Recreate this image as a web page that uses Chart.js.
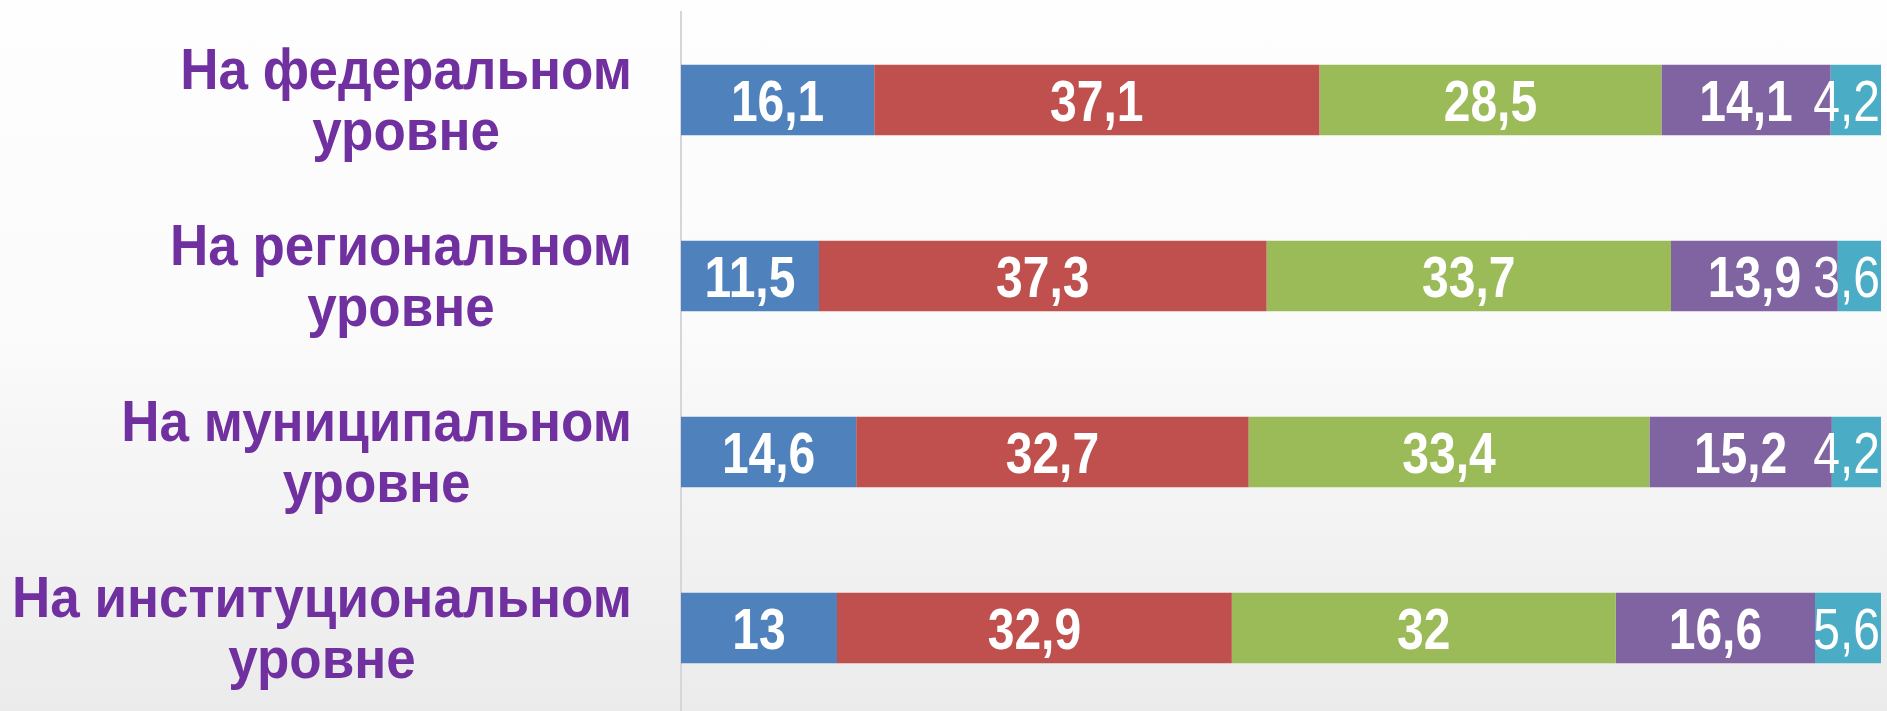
<!DOCTYPE html>
<html><head><meta charset="utf-8">
<script src="https://cdn.jsdelivr.net/npm/chart.js@4/dist/chart.umd.min.js"></script>
<style>
html,body{margin:0;padding:0;overflow:hidden;width:1887px;height:711px;
background:linear-gradient(to bottom,#fefefe 0%,#fbfbfb 45%,#ebebeb 100%);}
canvas{display:block}
</style></head><body>
<canvas id="c" width="1887" height="716"></canvas>
<script>
const categories = [
  ["На федеральном", "уровне"],
  ["На региональном", "уровне"],
  ["На муниципальном", "уровне"],
  ["На институциональном", "уровне"]
];
const seriesNames = ["Серия 1", "Серия 2", "Серия 3", "Серия 4", "Серия 5"];
const series1 = [16.1, 11.5, 14.6, 13];
const series2 = [37.1, 37.3, 32.7, 32.9];
const series3 = [28.5, 33.7, 33.4, 32];
const series4 = [14.1, 13.9, 15.2, 16.6];
const series5 = [4.2, 3.6, 4.2, 5.6];
const colors = ["#4f81bd", "#c0504d", "#9bbb59", "#8064a2", "#4bacc6"];

const allSeries = [series1, series2, series3, series4, series5];

const valueLabels = {
  id: 'valueLabels',
  afterDatasetsDraw(chart) {
    const {ctx, chartArea: a} = chart;
    ctx.save();
    ctx.beginPath();
    ctx.rect(a.left, 0, a.right - a.left, chart.height);
    ctx.clip();
    chart.data.datasets.forEach((ds, di) => {
      const meta = chart.getDatasetMeta(di);
      meta.data.forEach((el, i) => {
        const v = ds.data[i];
        const txt = String(v).replace('.', ',');
        const fs = 48;
        ctx.font = (di === 4 ? '' : 'bold ') + fs + 'px "Liberation Sans", Arial, sans-serif';
        ctx.fillStyle = '#ffffff';
        ctx.textAlign = 'center';
        ctx.textBaseline = 'alphabetic';
        const w = ctx.measureText(txt).width;
        let cx = (el.x + el.base) / 2;
        cx = Math.min(cx, a.right - 1 - w / 2);
        ctx.save();
        ctx.translate(cx, el.y);
        ctx.scale(1, 1.2);
        ctx.fillText(txt, 0, fs * 0.358);
        ctx.restore();
      });
    });
    ctx.restore();
  }
};

const categoryLabels = {
  id: 'categoryLabels',
  afterDraw(chart) {
    const {ctx, chartArea: a} = chart;
    const y = chart.scales.y;
    ctx.save();
    ctx.fillStyle = '#7030a0';
    ctx.font = 'bold 53px "Liberation Sans", Arial, sans-serif';
    ctx.textBaseline = 'alphabetic';
    const xr = a.left - 49;
    categories.forEach((lines, i) => {
      const yc = y.getPixelForValue(i);
      const w1 = ctx.measureText(lines[0]).width;
      ctx.save();
      ctx.translate(0, yc);
      ctx.scale(1, 1.1);
      ctx.textAlign = 'right';
      ctx.fillText(lines[0], xr, -11 / 1.1);
      ctx.textAlign = 'center';
      ctx.fillText(lines[1], xr - w1 / 2, 50 / 1.1);
      ctx.restore();
    });
    ctx.restore();
  }
};

new Chart(document.getElementById('c'), {
  type: 'bar',
  data: {
    labels: categories,
    datasets: allSeries.map((s, k) => ({
      label: seriesNames[k],
      data: s,
      backgroundColor: colors[k],
      borderWidth: 0,
      categoryPercentage: 1,
      barPercentage: 0.4
    }))
  },
  options: {
    indexAxis: 'y',
    responsive: false,
    animation: false,
    layout: {padding: {left: 0, right: 6, top: 12, bottom: 0}},
    plugins: {legend: {display: false}, tooltip: {enabled: false}},
    scales: {
      x: {stacked: true, display: false, min: 0, max: 100},
      y: {
        stacked: true,
        grid: {display: false},
        ticks: {display: false},
        border: {display: true, color: '#d6d6d6', width: 2},
        afterFit(s) { s.width = 681; }
      }
    }
  },
  plugins: [valueLabels, categoryLabels]
});
</script>
</body></html>
